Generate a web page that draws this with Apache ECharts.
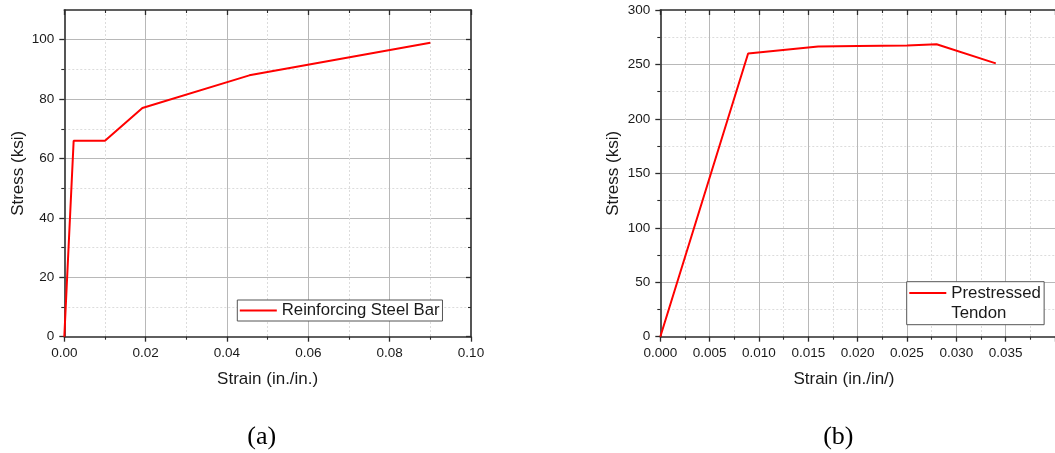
<!DOCTYPE html>
<html>
<head>
<meta charset="utf-8">
<script src="https://cdn.jsdelivr.net/npm/echarts@6/dist/echarts.min.js"></script>
<style>
  html, body { margin: 0; padding: 0; background: #fff; }
  #chart { width: 1055px; height: 453px; }
</style>
</head>
<body>
<div id="chart"></div>
<script>
// ---- data ----
const steelStrain = [0, 0.0023, 0.0100, 0.0192, 0.0455, 0.0900];
const steelStress = [0, 66, 66, 77, 88, 99];
const steelName = 'Reinforcing Steel Bar';

const tendonStrain = [0, 0.0089, 0.0160, 0.0200, 0.0250, 0.0280, 0.0340];
const tendonStress = [0, 260, 266.5, 267, 267.5, 268.5, 251];
const tendonName = 'Prestressed\nTendon';

const captionA = '(a)';
const captionB = '(b)';
const xNameA = 'Strain (in./in.)';
const xNameB = 'Strain (in./in/)';
const yName = 'Stress (ksi)';

// ---- styles ----
const FONT = 'Liberation Sans, Arial, sans-serif';
const AX = '#2b2b2b';
const TXT = '#1a1a1a';
const majorGrid = { show: true, lineStyle: { color: '#b8b8b8', width: 1 } };
const minorGrid = { show: true, lineStyle: { color: '#dcdcdc', width: 1, type: [2, 2] } };
const axLine = { show: true, onZero: false, lineStyle: { color: AX, width: 1.6 } };
const noAxLine = { show: false };
function ticks(inside) { return { show: true, inside: inside, length: 5, lineStyle: { color: AX, width: 1.3 } }; }
function minor(show) { return { show: show, splitNumber: 2, length: 3, lineStyle: { color: AX, width: 1.1 } }; }
const lbl = (fmt, extra) => Object.assign({ show: true, color: TXT, fontFamily: FONT, fontSize: 13.5, margin: 10, formatter: fmt }, extra || {});
const nameStyle = (extra) => Object.assign({ color: TXT, fontFamily: FONT, fontSize: 17 }, extra || {});

const chart = echarts.init(document.getElementById('chart'), null, { renderer: 'canvas' });

const gA = { left: 64.3, top: 10, width: 406.7, height: 326.7 };      // 0..110
const gA2 = { left: 64.3, top: 39.7, width: 406.7, height: 297 };     // 0..100 (ticks/grid)
const gB = { left: 660.3, top: 10, width: 432.4, height: 326.7 };     // x 0..0.04 (cropped by canvas)

const option = {
  backgroundColor: '#ffffff',
  animation: false,
  grid: [
    Object.assign({ containLabel: false }, gA),
    Object.assign({ containLabel: false }, gA2),
    Object.assign({ containLabel: false }, gB)
  ],
  xAxis: [
    { // 0: left chart bottom
      type: 'value', gridIndex: 0, position: 'bottom', min: 0, max: 0.1, interval: 0.02, z: 3,
      axisLine: axLine, axisTick: ticks(false), minorTick: minor(true),
      splitLine: Object.assign({ showMinLine: false, showMaxLine: false }, majorGrid), minorSplitLine: minorGrid,
      axisLabel: lbl(v => v.toFixed(2)),
      name: xNameA, nameLocation: 'middle', nameGap: 34, nameTextStyle: nameStyle()
    },
    { // 1: left chart top frame
      type: 'value', gridIndex: 0, position: 'top', min: 0, max: 0.1, interval: 0.02, z: 3,
      axisLine: axLine, axisTick: ticks(true), minorTick: minor(true),
      splitLine: { show: false }, axisLabel: { show: false }
    },
    { // 2: helper for tick grid (hidden)
      type: 'value', gridIndex: 1, min: 0, max: 0.1, show: false
    },
    { // 3: right chart bottom
      type: 'value', gridIndex: 2, position: 'bottom', min: 0, max: 0.04, interval: 0.005, z: 3,
      axisLine: axLine, axisTick: ticks(false), minorTick: minor(true),
      splitLine: Object.assign({ showMinLine: false, showMaxLine: false }, majorGrid), minorSplitLine: minorGrid,
      axisLabel: lbl(v => v.toFixed(3), { showMaxLabel: false }),
      name: xNameB, nameLocation: 'middle', nameGap: 34, nameTextStyle: nameStyle({ padding: [0, 27.4, 0, 0] })
    },
    { // 4: right chart top frame
      type: 'value', gridIndex: 2, position: 'top', min: 0, max: 0.04, interval: 0.005, z: 3,
      axisLine: axLine, axisTick: ticks(true), minorTick: minor(true),
      splitLine: { show: false }, axisLabel: { show: false }
    }
  ],
  yAxis: [
    { // 0: left chart left frame line + name (0..110)
      type: 'value', gridIndex: 0, position: 'left', min: 0, max: 110, z: 3,
      axisLine: axLine, axisTick: { show: false }, axisLabel: { show: false }, splitLine: { show: false },
      name: yName, nameLocation: 'middle', nameGap: 37, nameTextStyle: nameStyle()
    },
    { // 1: left chart right frame line
      type: 'value', gridIndex: 0, position: 'right', min: 0, max: 110, z: 3,
      axisLine: axLine, axisTick: { show: false }, axisLabel: { show: false }, splitLine: { show: false }
    },
    { // 2: left chart ticks, labels, grid (0..100)
      type: 'value', gridIndex: 1, position: 'left', min: 0, max: 100, interval: 20, z: 3,
      axisLine: noAxLine, axisTick: ticks(false), minorTick: minor(true),
      splitLine: Object.assign({ showMinLine: false }, majorGrid), minorSplitLine: minorGrid,
      axisLabel: lbl(v => String(v))
    },
    { // 3: left chart right-side inward ticks
      type: 'value', gridIndex: 1, position: 'right', min: 0, max: 100, interval: 20, z: 3,
      axisLine: noAxLine, axisTick: ticks(true), minorTick: minor(true),
      splitLine: { show: false }, axisLabel: { show: false }
    },
    { // 4: right chart left axis
      type: 'value', gridIndex: 2, position: 'left', min: 0, max: 300, interval: 50, z: 3,
      axisLine: axLine, axisTick: ticks(false), minorTick: minor(true),
      splitLine: Object.assign({ showMinLine: false, showMaxLine: false }, majorGrid), minorSplitLine: minorGrid,
      axisLabel: lbl(v => String(v)),
      name: yName, nameLocation: 'middle', nameGap: 38, nameTextStyle: nameStyle()
    }
  ],
  legend: [
    {
      data: [{ name: steelName, icon: 'path://M0,0H0.01V0.01H0Z M0,6H100V8H0Z M0,13.99H0.01V14H0Z' }],
      left: 237.3, top: 300, orient: 'vertical', symbolKeepAspect: false,
      padding: [2, 3, 2, 2.5], itemWidth: 37, itemHeight: 14, itemGap: 0,
      borderColor: '#555', borderWidth: 1, backgroundColor: '#fff', borderRadius: 0,
      textStyle: { color: TXT, fontFamily: FONT, fontSize: 16.7 }
    },
    {
      data: [{ name: tendonName, icon: 'path://M0,0H0.01V0.01H0Z M0,9.25H100V11.25H0Z M0,40.99H0.01V41H0Z' }],
      left: 906.7, top: 281.7, orient: 'vertical', symbolKeepAspect: false,
      padding: [1, 3.3, 1, 2.6], itemWidth: 37, itemHeight: 41, itemGap: 0,
      borderColor: '#555', borderWidth: 1, backgroundColor: '#fff', borderRadius: 0,
      textStyle: { color: TXT, fontFamily: FONT, fontSize: 16.8, lineHeight: 20.5 }
    }
  ],
  series: [
    {
      name: steelName, type: 'line', xAxisIndex: 0, yAxisIndex: 0,
      data: steelStrain.map((x, i) => [x, steelStress[i]]),
      showSymbol: false, symbol: 'none', color: '#ff0000',
      lineStyle: { color: '#ff0000', width: 2 }, z: 4
    },
    {
      name: tendonName, type: 'line', xAxisIndex: 3, yAxisIndex: 4,
      data: tendonStrain.map((x, i) => [x, tendonStress[i]]),
      showSymbol: false, symbol: 'none', color: '#ff0000',
      lineStyle: { color: '#ff0000', width: 2 }, z: 4
    }
  ],
  graphic: [
    { type: 'text', x: 261.7, y: 437, style: { text: captionA, align: 'center', verticalAlign: 'middle', font: '26px "Liberation Serif", "Times New Roman", serif', fill: '#000' } },
    { type: 'text', x: 838.3, y: 437, style: { text: captionB, align: 'center', verticalAlign: 'middle', font: '26px "Liberation Serif", "Times New Roman", serif', fill: '#000' } }
  ]
};
chart.setOption(option);
</script>
</body>
</html>
